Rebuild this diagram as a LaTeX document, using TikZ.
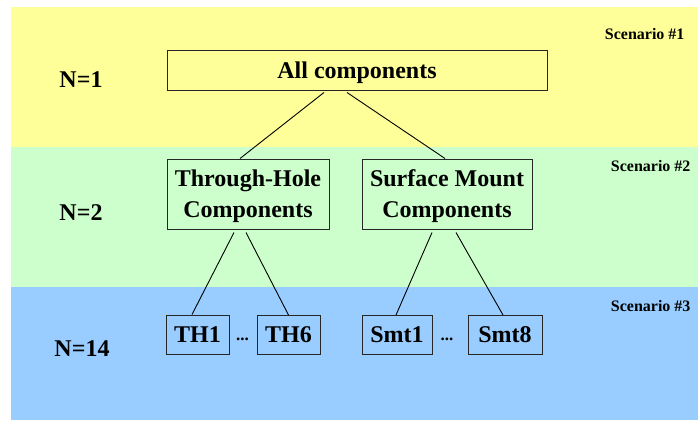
\documentclass[tikz,border=0pt]{standalone}
\usepackage{fontspec}
\setmainfont{Liberation Serif}
\definecolor{bandyellow}{HTML}{FFFF99}
\definecolor{bandgreen}{HTML}{CCFFCC}
\definecolor{bandblue}{HTML}{99CCFF}
\begin{document}
\begin{tikzpicture}[x=1pt,y=-1pt,
  box/.style={draw=black!85,line width=1pt,inner sep=0pt,align=center,text depth=0pt,
    font=\fontsize{24}{31}\selectfont\bfseries},
  lvl/.style={font=\fontsize{24}{28}\selectfont\bfseries},
  scen/.style={font=\fontsize{16}{18}\selectfont\bfseries,anchor=east},
  dots/.style={font=\fontsize{17}{20}\selectfont\bfseries},
  conn/.style={line width=0.9pt,black}]
\useasboundingbox (0,0) rectangle (698,420);
\fill[white] (0,0) rectangle (698,420);
\fill[bandyellow] (11,7) rectangle (698,147);
\fill[bandgreen] (11,147) rectangle (698,287);
\fill[bandblue] (11,287) rectangle (698,420);

\node[scen] (s1) at (688,34) {Scenario \#1};
\node[scen] (s2) at (694,166) {Scenario \#2};
\node[scen] (s3) at (694,306) {Scenario \#3};

\node[lvl] (n1) at (81,80) {N=1};
\node[lvl] (n2) at (81,213) {N=2};
\node[lvl] (n3) at (82,349) {N=14};

\node[box,minimum width=380pt,minimum height=39pt] (all) at (357,70.5) {All components};
\node[box,minimum width=162pt,minimum height=70pt] (th) at (248,194) {Through-Hole\\Components};
\node[box,minimum width=170pt,minimum height=70pt] (sm) at (447,194) {Surface Mount\\Components};

\node[box,minimum width=63pt,minimum height=39pt] (th1) at (197.5,334.5) {TH1};
\node[box,minimum width=63pt,minimum height=39pt] (th6) at (288.5,335) {TH6};
\node[box,minimum width=70pt,minimum height=39pt] (smt1) at (397,335) {Smt1};
\node[box,minimum width=74pt,minimum height=39pt] (smt8) at (505,335) {Smt8};

\node[dots] (d1) at (242.5,339) {...};
\node[dots] (d2) at (447,339) {...};

\draw[conn] ([xshift=-33pt,yshift=-2pt]all.south) -- ([xshift=-8pt]th.north);
\draw[conn] ([xshift=-10pt,yshift=-2pt]all.south) -- ([xshift=-2pt]sm.north);
\draw[conn] ([xshift=-14pt,yshift=-3pt]th.south) -- ([xshift=-5.5pt]th1.north);
\draw[conn] ([xshift=-2pt,yshift=-3pt]th.south) -- ([xshift=0pt]th6.north);
\draw[conn] ([xshift=-15pt,yshift=-3pt]sm.south) -- ([xshift=-1pt]smt1.north);
\draw[conn] ([xshift=9pt,yshift=-3pt]sm.south) -- ([xshift=-2pt]smt8.north);
\end{tikzpicture}
\end{document}
